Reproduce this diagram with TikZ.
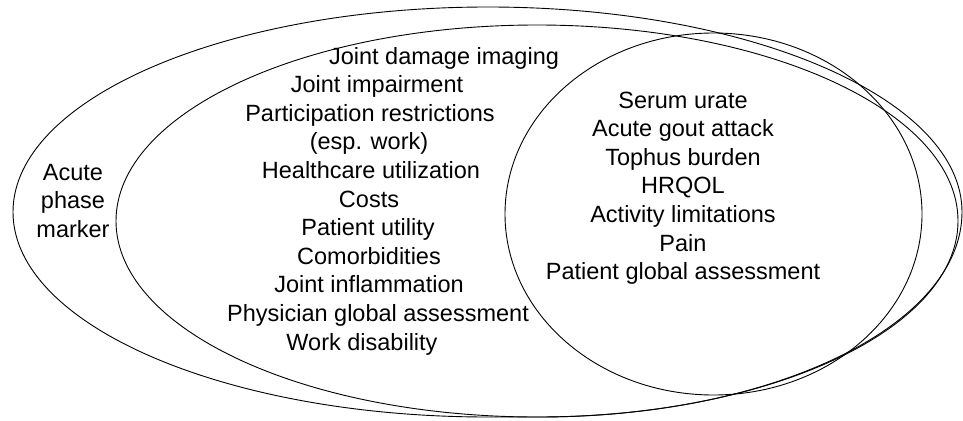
\documentclass[tikz,border=0pt]{standalone}
\usepackage{fontspec}
\setmainfont{Liberation Sans}

\begin{document}
\begin{tikzpicture}[
  x=1pt, y=-1pt, % picture coordinates, y running downwards
  every node/.style={inner sep=0pt, anchor=base, font=\fontsize{23.5}{28.6}\selectfont},
  ring/.style={draw, line width=0.9pt}]

  \useasboundingbox (0,0) rectangle (963,420);

  % the three sets (the outer one is egg shaped, fuller at the lower right)
  \draw[ring] (13,212)
    arc[start angle=180, end angle=90, x radius=475pt, y radius=205pt]
    arc[start angle=90, end angle=0, x radius=474pt, y radius=205pt]
    arc[start angle=0, end angle=-90, x radius=422pt, y radius=205pt]
    -- (488,417)
    arc[start angle=-90, end angle=-180, x radius=475pt, y radius=205pt] -- cycle;
  \draw[ring] (537,221) ellipse [x radius=421pt, y radius=196pt];
  \draw[ring] (713.5,214) ellipse [x radius=208.5pt, y radius=181pt];

  % outer ring only
  \node (acute)  at (73,180)   {Acute};
  \node (phase)  at (73,208.6) {phase};
  \node (marker) at (73,237.2) {marker};

  % middle ring
  \node (dmg)    at (444,64)    {Joint damage imaging};
  \node (imp)    at (377,92.6)  {Joint impairment};
  \node (part)   at (370,121.2) {Participation restrictions};
  \node (esp)    at (369,149.8) {(esp. work)};
  \node (hcu)    at (371,178.4) {Healthcare utilization};
  \node (costs)  at (369,207)   {Costs};
  \node (util)   at (368,235.6) {Patient utility};
  \node (comorb) at (369,264.2) {Comorbidities};
  \node (infl)   at (369,292.8) {Joint inflammation};
  \node (phys)   at (378,321.4) {Physician global assessment};
  \node (work)   at (362,350)   {Work disability};

  % core set
  \node (urate)  at (683,108)   {Serum urate};
  \node (attack) at (683,136.6) {Acute gout attack};
  \node (tophus) at (683,165.2) {Tophus burden};
  \node (hrqol)  at (683,193.8) {HRQOL};
  \node (act)    at (683,222.4) {Activity limitations};
  \node (pain)   at (683,251)   {Pain};
  \node (pga)    at (683,279.6) {Patient global assessment};
\end{tikzpicture}
\end{document}
